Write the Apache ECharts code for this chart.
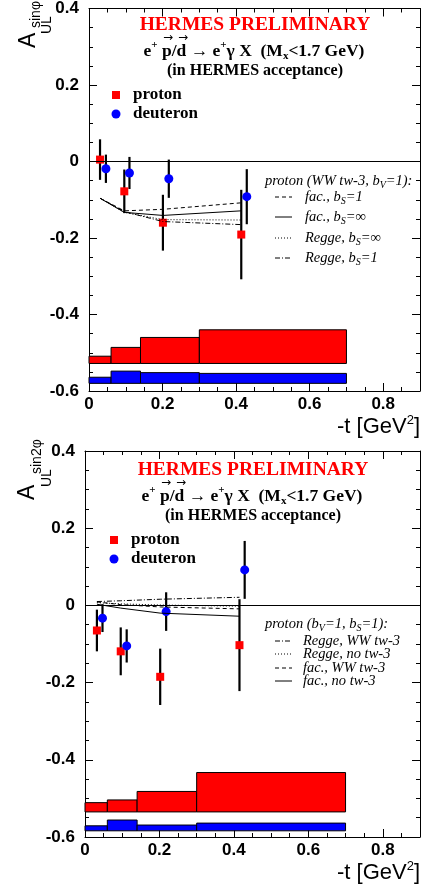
<!DOCTYPE html>
<html>
<head>
<meta charset="utf-8">
<script src="https://cdn.jsdelivr.net/npm/echarts@6/dist/echarts.min.js"></script>
<style>
  html, body { margin: 0; padding: 0; background: #fff; }
  #chart { width: 422px; height: 891px; }
</style>
</head>
<body>
<div id="chart"></div>
<script>
// -t bins of the systematic bands
const binEdges = [0, 0.06, 0.14, 0.3, 0.7]

// ---- A_UL sin(phi) ----
const s1_tP = [0.030, 0.096, 0.201, 0.414]
const s1_aP = [0.005, -0.078, -0.160, -0.191]
const s1_eP = [0.053, 0.057, 0.073, 0.117]
const s1_tD = [0.046, 0.110, 0.217, 0.429]
const s1_aD = [-0.019, -0.030, -0.045, -0.092]
const s1_eD = [0.037, 0.042, 0.050, 0.072]
const s1_sysBaseP = -0.528
const s1_sysTopP = [-0.509, -0.486, -0.460, -0.440]
const s1_sysBaseD = -0.580
const s1_sysTopD = [-0.564, -0.548, -0.552, -0.554]
// model curves (proton)
const s1_tCurve = [0.030, 0.096, 0.201, 0.414]
const s1_facB1 = [-0.096, -0.129, -0.125, -0.108]
const s1_facBinf = [-0.096, -0.133, -0.141, -0.129]
const s1_reggeBinf = [-0.096, -0.133, -0.152, -0.153]
const s1_reggeB1 = [-0.096, -0.131, -0.157, -0.165]

// ---- A_UL sin(2phi) ----
const s2_tP = [0.032, 0.096, 0.202, 0.415]
const s2_aP = [-0.065, -0.119, -0.185, -0.103]
const s2_eP = [0.054, 0.062, 0.073, 0.119]
const s2_tD = [0.047, 0.112, 0.218, 0.429]
const s2_aD = [-0.033, -0.105, -0.016, 0.092]
const s2_eD = [0.036, 0.043, 0.050, 0.075]
const s2_sysBaseP = -0.535
const s2_sysTopP = [-0.511, -0.504, -0.482, -0.433]
const s2_sysBaseD = -0.584
const s2_sysTopD = [-0.571, -0.556, -0.569, -0.564]
const s2_tCurve = [0.032, 0.096, 0.202, 0.415]
const s2_reggeWW = [0.010, 0.012, 0.016, 0.021]
const s2_reggeNo = [0.007, 0.004, 0.001, -0.002]
const s2_facWW = [0.009, 0.002, -0.004, -0.009]
const s2_facNo = [0.003, -0.007, -0.020, -0.028]

const DASH = [4, 3]
const DOT = [1, 2]
const DASHDOT = [5, 2, 1, 2]

const chart = echarts.init(document.getElementById('chart'))

const bandSeries = (gi, base, tops, color) => ({
  type: 'custom',
  xAxisIndex: gi * 2,
  yAxisIndex: gi * 2,
  data: tops.map((top, i) => [binEdges[i], binEdges[i + 1], base, top]),
  encode: { x: [0, 1], y: [2, 3] },
  renderItem: (params, api) => {
    const a = api.coord([api.value(0), api.value(3)])
    const b = api.coord([api.value(1), api.value(2)])
    return {
      type: 'rect',
      shape: { x: a[0], y: a[1], width: b[0] - a[0], height: b[1] - a[1] },
      style: { fill: color, stroke: '#000', lineWidth: 1 }
    }
  }
})

const errSeries = (gi, t, a, e) => ({
  type: 'custom',
  xAxisIndex: gi * 2,
  yAxisIndex: gi * 2,
  data: t.map((x, i) => [x, a[i] - e[i], a[i] + e[i]]),
  encode: { x: 0, y: [1, 2] },
  renderItem: (params, api) => {
    const lo = api.coord([api.value(0), api.value(1)])
    const hi = api.coord([api.value(0), api.value(2)])
    return {
      type: 'line',
      shape: { x1: lo[0], y1: lo[1], x2: hi[0], y2: hi[1] },
      style: { stroke: '#000', lineWidth: 2.2 }
    }
  }
})

const curveSeries = (gi, t, v, dash) => ({
  type: 'line',
  xAxisIndex: gi * 2,
  yAxisIndex: gi * 2,
  data: t.map((x, i) => [x, v[i]]),
  symbol: 'none',
  lineStyle: { color: '#000', width: 1, type: dash }
})

const pointSeries = (gi, t, a, symbol, size, color) => ({
  type: 'scatter',
  xAxisIndex: gi * 2,
  yAxisIndex: gi * 2,
  data: t.map((x, i) => [x, a[i]]),
  symbol,
  symbolSize: size,
  itemStyle: { color, opacity: 1 }
})

const zeroLine = (gi) => ({
  type: 'line',
  xAxisIndex: gi * 2,
  yAxisIndex: gi * 2,
  data: [],
  markLine: {
    silent: true,
    symbol: 'none',
    label: { show: false },
    lineStyle: { color: '#000', width: 1, type: 'solid' },
    data: [{ yAxis: 0 }]
  }
})

const tickStyle = { color: '#000', width: 1 }
const labelFont = { fontFamily: 'Liberation Sans', fontWeight: 'bold', fontSize: 17, color: '#000' }

const xAxes = (gi) => {
  const common = {
    type: 'value', gridIndex: gi, min: 0, max: 0.9, interval: 0.2,
    axisLine: { onZero: false, lineStyle: tickStyle },
    axisTick: { inside: true, length: 8, lineStyle: tickStyle },
    minorTick: { show: true, splitNumber: 4, length: 4, lineStyle: tickStyle },
    splitLine: { show: false }
  }
  return [
    { ...common, position: 'bottom', axisLabel: { ...labelFont, margin: 5, showMaxLabel: false } },
    { ...common, position: 'top', axisLabel: { show: false } }
  ]
}

const yAxes = (gi) => {
  const common = {
    type: 'value', gridIndex: gi, min: -0.6, max: 0.4, interval: 0.2,
    axisLine: { onZero: false, lineStyle: tickStyle },
    axisTick: { inside: true, length: 8, lineStyle: tickStyle },
    minorTick: { show: true, splitNumber: 4, length: 4, lineStyle: tickStyle },
    splitLine: { show: false }
  }
  return [
    { ...common, position: 'left', axisLabel: { ...labelFont, margin: 10 } },
    { ...common, position: 'right', axisLabel: { show: false } }
  ]
}

// text helpers
const serifB = (size) => ({ fontFamily: 'Liberation Serif', fontWeight: 'bold', fontSize: size })
const serifI = (size) => ({ fontFamily: 'Liberation Serif', fontStyle: 'italic', fontSize: size })

const text = (x, y, str, font, fill, align) => ({
  type: 'text', x, y,
  style: { text: str, font, fill: fill || '#000', textAlign: align || 'left', textVerticalAlign: 'middle' }
})
const richText = (x, y, str, rich, align) => ({
  type: 'text', x, y,
  style: { text: str, rich, fill: '#000', textAlign: align || 'left', textVerticalAlign: 'middle' }
})
const vtext = (x, y, str, font) => ({
  type: 'text', x, y, rotation: Math.PI / 2,
  style: { text: str, font, fill: '#000', textAlign: 'left', textVerticalAlign: 'middle' }
})
const sample = (x1, x2, y, dash) => ({
  type: 'line',
  shape: { x1, y1: y, x2, y2: y },
  style: { stroke: '#000', lineWidth: 1, lineDash: dash === 'solid' ? null : dash }
})

const titleRich = {
  m: { ...serifB(17.5), lineHeight: 22, verticalAlign: 'middle' },
  sup: { ...serifB(11), verticalAlign: 'top' },
  sub: { ...serifB(11), verticalAlign: 'bottom' }
}
const legRich = {
  i: { ...serifI(14.5), lineHeight: 18, verticalAlign: 'middle' },
  s: { ...serifI(10), verticalAlign: 'bottom' }
}
const axisTitleRich = {
  n: { fontFamily: 'Liberation Sans', fontSize: 22, lineHeight: 26, verticalAlign: 'middle' },
  sup: { fontFamily: 'Liberation Sans', fontSize: 13, verticalAlign: 'top' }
}

const panelDecor = (dx, dy) => [
  text(255 + dx, 25 + dy, 'HERMES PRELIMINARY', 'bold 19.5px "Liberation Serif"', '#ff0000', 'center'),
  richText(254 + dx, 51 + dy, '{m|e}{sup|+}{m| p/d → e}{sup|+}{m|γ X  (M}{sub|x}{m|<1.7 GeV)}', titleRich, 'center'),
  text(168 + dx, 38 + dy, '→', '12px "DejaVu Sans"', '#000', 'center'),
  text(183 + dx, 38 + dy, '→', '12px "DejaVu Sans"', '#000', 'center'),
  text(255 + dx, 71 + dy, '(in HERMES acceptance)', 'bold 16px "Liberation Serif"', '#000', 'center'),
  { type: 'rect', shape: { x: 112 + dx, y: 91 + dy, width: 8, height: 8 }, style: { fill: '#ff0000' } },
  text(133 + dx, 95 + dy, 'proton', 'bold 17px "Liberation Serif"'),
  { type: 'circle', shape: { cx: 116 + dx, cy: 114 + dy, r: 4.5 }, style: { fill: '#0000ff' } },
  text(133 + dx, 114 + dy, 'deuteron', 'bold 17px "Liberation Serif"')
]

const graphic = [
  ...panelDecor(0, 0),
  ...panelDecor(-2, 445),
  // y titles
  vtext(29, 48, 'A', '23px "Liberation Sans"'),
  vtext(47, 34, 'UL', '14px "Liberation Sans"'),
  vtext(36, 28, 'sinφ', '14px "Liberation Sans"'),
  vtext(28, 500, 'A', '23px "Liberation Sans"'),
  vtext(47, 487, 'UL', '14px "Liberation Sans"'),
  vtext(37, 474, 'sin2φ', '14px "Liberation Sans"'),
  // x titles
  richText(420, 427, '{n|-t [GeV}{sup|2}{n|]}', axisTitleRich, 'right'),
  richText(420, 873, '{n|-t [GeV}{sup|2}{n|]}', axisTitleRich, 'right'),
  // model legend, sin(phi)
  richText(265, 181, '{i|proton (WW tw-3, b}{s|V}{i|=1):}', legRich),
  sample(275, 292, 197, DASH),
  richText(305, 197, '{i|fac., b}{s|S}{i|=1}', legRich),
  sample(275, 292, 217, 'solid'),
  richText(305, 217, '{i|fac., b}{s|S}{i|=∞}', legRich),
  sample(275, 292, 238, DOT),
  richText(305, 238, '{i|Regge, b}{s|S}{i|=∞}', legRich),
  sample(275, 292, 258, DASHDOT),
  richText(305, 258, '{i|Regge, b}{s|S}{i|=1}', legRich),
  // model legend, sin(2phi)
  richText(265, 624, '{i|proton (b}{s|V}{i|=1, b}{s|S}{i|=1):}', legRich),
  sample(275, 292, 641, DASHDOT),
  richText(303, 641, '{i|Regge, WW tw-3}', legRich),
  sample(275, 292, 654, DOT),
  richText(303, 654, '{i|Regge, no tw-3}', legRich),
  sample(275, 292, 668, DASH),
  richText(303, 668, '{i|fac., WW tw-3}', legRich),
  sample(275, 292, 681, 'solid'),
  richText(303, 681, '{i|fac., no tw-3}', legRich)
]

const option = {
  animation: false,
  backgroundColor: '#fff',
  grid: [
    { left: 89, right: 2, top: 5, height: 386 },
    { left: 85, right: 2, top: 451, height: 386 }
  ],
  xAxis: [...xAxes(0), ...xAxes(1)],
  yAxis: [...yAxes(0), ...yAxes(1)],
  series: [
    zeroLine(0),
    bandSeries(0, s1_sysBaseP, s1_sysTopP, '#ff0000'),
    bandSeries(0, s1_sysBaseD, s1_sysTopD, '#0000ff'),
    curveSeries(0, s1_tCurve, s1_facB1, DASH),
    curveSeries(0, s1_tCurve, s1_facBinf, 'solid'),
    curveSeries(0, s1_tCurve, s1_reggeBinf, DOT),
    curveSeries(0, s1_tCurve, s1_reggeB1, DASHDOT),
    errSeries(0, s1_tP, s1_aP, s1_eP),
    errSeries(0, s1_tD, s1_aD, s1_eD),
    pointSeries(0, s1_tP, s1_aP, 'rect', 8, '#ff0000'),
    pointSeries(0, s1_tD, s1_aD, 'circle', 9, '#0000ff'),

    zeroLine(1),
    bandSeries(1, s2_sysBaseP, s2_sysTopP, '#ff0000'),
    bandSeries(1, s2_sysBaseD, s2_sysTopD, '#0000ff'),
    curveSeries(1, s2_tCurve, s2_reggeWW, DASHDOT),
    curveSeries(1, s2_tCurve, s2_reggeNo, DOT),
    curveSeries(1, s2_tCurve, s2_facWW, DASH),
    curveSeries(1, s2_tCurve, s2_facNo, 'solid'),
    errSeries(1, s2_tP, s2_aP, s2_eP),
    errSeries(1, s2_tD, s2_aD, s2_eD),
    pointSeries(1, s2_tP, s2_aP, 'rect', 8, '#ff0000'),
    pointSeries(1, s2_tD, s2_aD, 'circle', 9, '#0000ff')
  ],
  graphic
}

chart.setOption(option)
</script>
</body>
</html>
